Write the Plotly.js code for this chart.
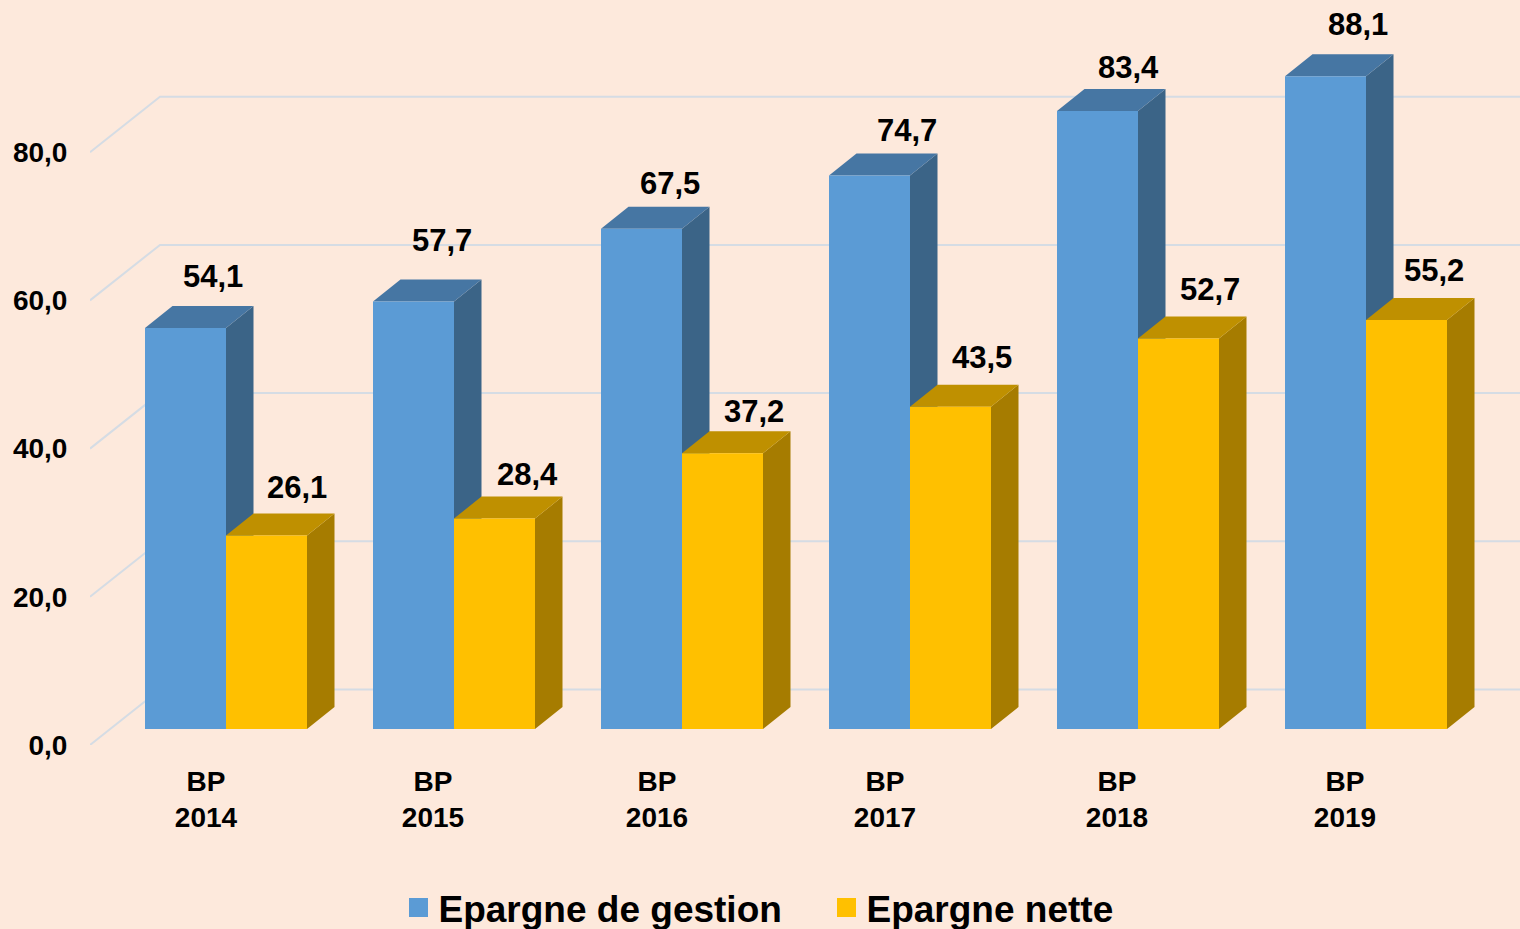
<!DOCTYPE html>
<html>
<head>
<meta charset="utf-8">
<script src="https://cdn.plot.ly/plotly-3.0.1.min.js"></script>
<style>html,body{margin:0;padding:0;background:#FDE9DC;overflow:hidden}</style>
</head>
<body>
<div id="chart" style="width:1520px;height:929px"></div>
<script>
const categories = ["BP<br>2014","BP<br>2015","BP<br>2016","BP<br>2017","BP<br>2018","BP<br>2019"];
const gestion = [54.1,57.7,67.5,74.7,83.4,88.1];
const nette = [26.1,28.4,37.2,43.5,52.7,55.2];
const seriesNames = ["Epargne de gestion","Epargne nette"];
const yTicks = [0,20,40,60,80];

// geometry of the pseudo-3D projection, in axis units
const PXX = 228, PXY = 7.41;
const barW = 81/PXX, depthX = 27.5/PXX, depthY = 22/PXY, baseY = 16/PXY;
const wallX = 70/PXX, wallY = 55.5/PXY;
const xRange = [(90-226)/PXX, (1520-226)/PXX];
const yRange = [0, 745/PXY];
const fmt = v => v.toFixed(1).replace('.',',');

// hand offsets of labels (px), as seen in the reference
const catNudge = [-20,-21,-25,-25,-21,-21];
const gX = [27.5,28.5,28.5,37.5,30.5,32.5], gY = [52,61,45,45,44,52];
const nX = [30.5,32.5,31.5,31.5,31.5,27.5], nY = [48,44,42,49,49,49];

function faces(vals, left){
  const side={x:[],y:[]}, top={x:[],y:[]};
  vals.forEach((v,i)=>{
    const x0=i+left, x1=x0+barW, t=v+baseY;
    side.x.push(x1,x1+depthX,x1+depthX,x1,x1,null);
    side.y.push(baseY,baseY+depthY,t+depthY,t,baseY,null);
    top.x.push(x0,x0+depthX,x1+depthX,x1,x0,null);
    top.y.push(t,t+depthY,t+depthY,t,t,null);
  });
  return {side,top};
}
function fillTrace(p,color,z){
  return {type:'scatter',mode:'lines',x:p.x,y:p.y,fill:'toself',fillcolor:color,
    line:{width:0,color:color},hoverinfo:'skip',showlegend:false,zorder:z};
}
const grid={x:[],y:[]};
yTicks.forEach(v=>{
  grid.x.push(xRange[0],xRange[0]+wallX,xRange[1],null);
  grid.y.push(v,v+wallY,v+wallY,null);
});
const xs=categories.map((_,i)=>i);
const fG=faces(gestion,-barW), fN=faces(nette,0);

const traces=[
  {type:'scatter',mode:'lines',x:grid.x,y:grid.y,line:{color:'#D5DCE4',width:2},hoverinfo:'skip',showlegend:false,zorder:0},
  fillTrace(fG.side,'#3B6487',1),
  fillTrace(fG.top,'#4676A3',1),
  {type:'bar',x:xs,y:gestion,base:baseY,width:barW,offset:-barW,marker:{color:'#5B9BD5',line:{width:0}},showlegend:false,zorder:2},
  fillTrace(fN.side,'#A67C00',3),
  fillTrace(fN.top,'#BF9000',3),
  {type:'bar',x:xs,y:nette,base:baseY,width:barW,offset:0,marker:{color:'#FFC000',line:{width:0}},showlegend:false,zorder:4},
  {type:'scatter',mode:'markers',x:[null],y:[null],name:seriesNames[0],marker:{symbol:'square',size:16,color:'#5B9BD5',line:{width:3,color:'#5B9BD5'}}},
  {type:'scatter',mode:'markers',x:[null],y:[null],name:seriesNames[1],marker:{symbol:'square',size:16,color:'#FFC000',line:{width:3,color:'#FFC000'}}}
];
const labelFont={family:'"Liberation Sans",Arial,sans-serif',size:31,color:'#000000',weight:700};
const ann=[];
gestion.forEach((v,i)=>ann.push({x:i-barW/2,y:v+baseY,text:fmt(v),showarrow:false,xanchor:'center',yanchor:'middle',xshift:gX[i],yshift:gY[i],font:labelFont}));
nette.forEach((v,i)=>ann.push({x:i+barW/2,y:v+baseY,text:fmt(v),showarrow:false,xanchor:'center',yanchor:'middle',xshift:nX[i],yshift:nY[i],font:labelFont}));
const tickFont={family:'"Liberation Sans",Arial,sans-serif',size:28,color:'#000000',weight:700};
const layout={
  width:1520,height:929,
  paper_bgcolor:'#FDE9DC',plot_bgcolor:'#FDE9DC',
  margin:{l:90,r:0,t:0,b:184,pad:0,autoexpand:false},
  barmode:'overlay',
  xaxis:{type:'linear',range:xRange,showgrid:false,zeroline:false,showline:false,
    tickmode:'array',tickvals:xs.map(i=>i+catNudge[i]/PXX),ticktext:categories,
    ticks:'outside',ticklen:11,tickcolor:'rgba(0,0,0,0)',tickfont:tickFont,tickangle:0},
  yaxis:{range:yRange,showgrid:false,zeroline:false,showline:false,
    tickmode:'array',tickvals:yTicks,ticktext:yTicks.map(fmt),
    ticks:'outside',ticklen:16,tickcolor:'rgba(0,0,0,0)',tickfont:tickFont},
  legend:{orientation:'h',x:(398.5-90)/1430,xanchor:'left',y:-163/745,yanchor:'middle',
    bgcolor:'rgba(0,0,0,0)',font:{family:'"Liberation Sans",Arial,sans-serif',size:37,color:'#000000',weight:700},
    entrywidth:383,entrywidthmode:'pixels',
    itemclick:false,itemdoubleclick:false},
  annotations:ann,
  showlegend:true
};
Plotly.newPlot('chart',traces,layout,{displayModeBar:false,staticPlot:true});
</script>
</body>
</html>
